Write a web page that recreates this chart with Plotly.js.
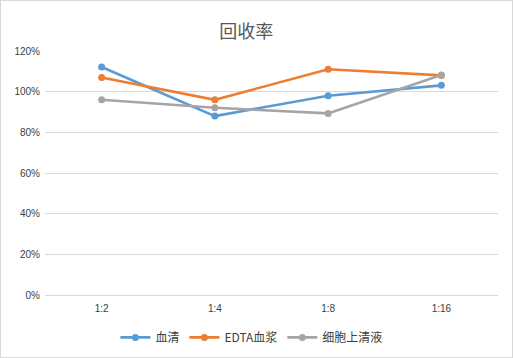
<!DOCTYPE html>
<html>
<head>
<meta charset="utf-8">
<script src="https://cdn.plot.ly/plotly-3.0.1.min.js"></script>
<style>
html,body{margin:0;padding:0;background:#fff;}
#chart{width:513px;height:358px;box-sizing:border-box;border:1px solid #d9d9d9;}
</style>
</head>
<body>
<div id="chart"></div>
<script>
const categories = ['1:2', '1:4', '1:8', '1:16'];
const serum = [1.121, 0.880, 0.980, 1.031];
const edtaPlasma = [1.070, 0.960, 1.110, 1.080];
const cellSupernatant = [0.960, 0.921, 0.893, 1.082];
const seriesNames = ['血清', 'EDTA血浆', '细胞上清液'];
const colors = ['#5B9BD5', '#ED7D31', '#A5A5A5'];
const yTicks = [0, 0.2, 0.4, 0.6, 0.8, 1.0, 1.2];

const allSeries = [serum, edtaPlasma, cellSupernatant];
const traces = allSeries.map((ys, i) => ({
  x: categories,
  y: ys,
  name: seriesNames[i],
  type: 'scatter',
  mode: 'lines+markers',
  line: {color: colors[i], width: 2.6},
  marker: {color: colors[i], size: 7}
}));

const layout = {
  width: 511, height: 356,
  margin: {l: 44, r: 14, t: 50, b: 62, autoexpand: false},
  paper_bgcolor: '#fff',
  plot_bgcolor: '#fff',
  font: {family: 'Liberation Sans, Noto Sans CJK SC, sans-serif', size: 10, color: '#404040'},
  title: {
    text: '回收率',
    font: {family: 'Noto Sans CJK SC, sans-serif', size: 18, color: '#595959'},
    x: 0.48, xanchor: 'center', y: 0.915, yanchor: 'middle'
  },
  xaxis: {
    type: 'category',
    range: [-0.5, 3.5],
    showgrid: false,
    showline: false,
    zeroline: false,
    ticks: '',
    ticklabelstandoff: 6,
    tickfont: {size: 10, color: '#404040'}
  },
  yaxis: {
    range: [0, 1.2],
    tickvals: yTicks,
    tickformat: '.0%',
    showgrid: true,
    gridcolor: '#D9D9D9',
    gridwidth: 1,
    zeroline: true,
    zerolinecolor: '#D9D9D9',
    zerolinewidth: 1,
    showline: false,
    ticks: '',
    ticklabelstandoff: 4,
    tickfont: {size: 10, color: '#404040'}
  },
  showlegend: true,
  legend: {
    orientation: 'h',
    x: 0.49, xanchor: 'center', xref: 'container',
    y: 0.055, yanchor: 'middle', yref: 'container',
    font: {family: 'Noto Sans CJK SC, sans-serif', size: 12, color: '#404040'},
    itemwidth: 30,
    tracegroupgap: 0
  }
};

Plotly.newPlot('chart', traces, layout, {displayModeBar: false, staticPlot: true});
</script>
</body>
</html>
